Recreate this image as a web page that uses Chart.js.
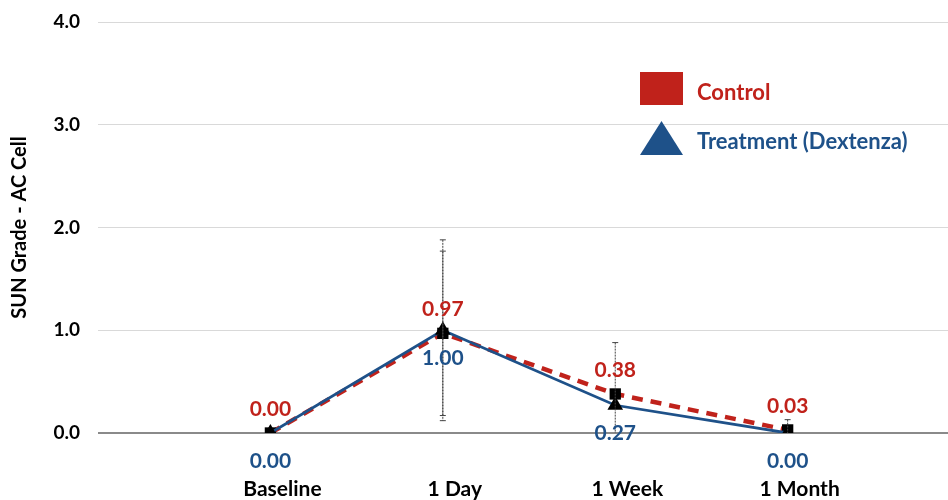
<!DOCTYPE html>
<html><head><meta charset="utf-8">
<script src="https://cdn.jsdelivr.net/npm/chart.js@4"></script>
<style>html,body{margin:0;padding:0;background:#fff;overflow:hidden}#wrap{width:948px;height:500px;position:relative}canvas{display:block}</style>
</head><body><div id="wrap"><canvas id="c"></canvas></div>
<script>
const categories = ['Baseline', '1 Day', '1 Week', '1 Month'];
const controlValues = [0.00, 0.97, 0.38, 0.03];
const treatmentValues = [0.00, 1.00, 0.27, 0.00];
const controlErrors = [0, 0.80, 0.50, 0.10];
const treatmentErrors = [0, 0.88, 0, 0];
const yTicks = [0, 1, 2, 3, 4];
const seriesNames = ['Control', 'Treatment (Dextenza)'];

const RED = '#C0221B', BLUE = '#1E5189';
const FONT = 'Lato, "Open Sans", sans-serif';

const toPts = v => v.map((y, i) => ({x: i + 1, y}));

const errPlugin = {
  id: 'err',
  afterDatasetsDraw(chart) {
    const {ctx, scales: {x, y}} = chart;
    ctx.save();
    ctx.strokeStyle = '#444';
    ctx.lineWidth = 1;
    [[controlValues, controlErrors], [treatmentValues, treatmentErrors]].forEach(([vals, errs]) => {
      vals.forEach((v, i) => {
        if (!errs[i]) return;
        const px = x.getPixelForValue(i + 1);
        const top = y.getPixelForValue(v + errs[i]);
        const bot = y.getPixelForValue(Math.max(v - errs[i], 0));
        ctx.setLineDash([2, 1]);
        ctx.beginPath(); ctx.moveTo(px, top); ctx.lineTo(px, bot); ctx.stroke();
        ctx.setLineDash([]);
        ctx.beginPath();
        ctx.moveTo(px - 3, top); ctx.lineTo(px + 3, top);
        if (v - errs[i] > 0) { ctx.moveTo(px - 3, bot); ctx.lineTo(px + 3, bot); }
        ctx.stroke();
      });
    });
    ctx.restore();
  }
};

const labelPlugin = {
  id: 'labels',
  afterDraw(chart) {
    const {ctx, scales: {x, y}} = chart;
    ctx.save();
    ctx.font = 'bold 21px ' + FONT;
    ctx.textAlign = 'center';
    ctx.textBaseline = 'middle';
    controlValues.forEach((v, i) => {
      ctx.fillStyle = RED;
      ctx.fillText(v.toFixed(2), x.getPixelForValue(i + 1), y.getPixelForValue(v) - 24);
    });
    treatmentValues.forEach((v, i) => {
      ctx.fillStyle = BLUE;
      ctx.fillText(v.toFixed(2), x.getPixelForValue(i + 1), y.getPixelForValue(v) + 28);
    });
    // legend
    ctx.textAlign = 'left';
    ctx.font = 'bold 22px ' + FONT;
    ctx.fillStyle = RED;
    ctx.fillRect(640, 72, 43, 33);
    ctx.fillText(seriesNames[0], 697, 93);
    ctx.fillStyle = BLUE;
    ctx.beginPath(); ctx.moveTo(661.5, 121); ctx.lineTo(683, 155); ctx.lineTo(640, 155); ctx.closePath(); ctx.fill();
    ctx.fillText(seriesNames[1], 697, 142);
    ctx.restore();
  }
};

new Chart(document.getElementById('c'), {
  type: 'line',
  data: {
    datasets: [
      {label: seriesNames[0], data: toPts(controlValues), borderColor: RED, borderWidth: 4.5,
       borderDash: [11, 8], pointStyle: 'rect', pointRadius: 8, pointBackgroundColor: '#000',
       pointBorderColor: '#000', pointBorderWidth: 0, order: 2},
      {label: seriesNames[1], data: toPts(treatmentValues), borderColor: BLUE, borderWidth: 2.8,
       pointStyle: 'triangle', pointRadius: 9, pointBackgroundColor: '#000',
       pointBorderColor: '#000', pointBorderWidth: 0, order: 1}
    ]
  },
  options: {
    responsive: true, maintainAspectRatio: false, animation: false,
    layout: {autoPadding: false, padding: {top: 22, right: 0, bottom: 0, left: 2}},
    plugins: {legend: {display: false}, tooltip: {enabled: false}},
    scales: {
      x: {type: 'linear', min: 0, max: 4.93,
          afterBuildTicks: s => { s.ticks = categories.map((c, i) => ({value: i + 1})); },
          afterFit: s => { s.height = 67; s.paddingLeft = 0; s.paddingRight = 0; },
          ticks: {callback: v => categories[v - 1] || '', color: '#000', font: {family: FONT, size: 21, weight: 'bold'}, padding: 44, maxRotation: 0, labelOffset: 12},
          grid: {display: false, drawTicks: false}, border: {display: false}},
      y: {min: 0, max: 4,
          afterBuildTicks: s => { s.ticks = yTicks.map(v => ({value: v})); },
          afterFit: s => { s.width = 96; s.paddingTop = 0; s.paddingBottom = 0; },
          ticks: {callback: v => v.toFixed(1), color: '#000', font: {family: FONT, size: 19, weight: 'bold'}, padding: 18},
          grid: {drawTicks: false, color: c => c.tick && c.tick.value === 0 ? '#8a8a8a' : '#d9d9d9', lineWidth: c => c.tick && c.tick.value === 0 ? 2 : 1},
          border: {display: false},
          title: {display: true, text: 'SUN Grade - AC Cell', color: '#000', font: {family: FONT, size: 20, weight: 'bold'}, padding: 6}}
    }
  },
  plugins: [errPlugin, labelPlugin]
});
</script></body></html>
